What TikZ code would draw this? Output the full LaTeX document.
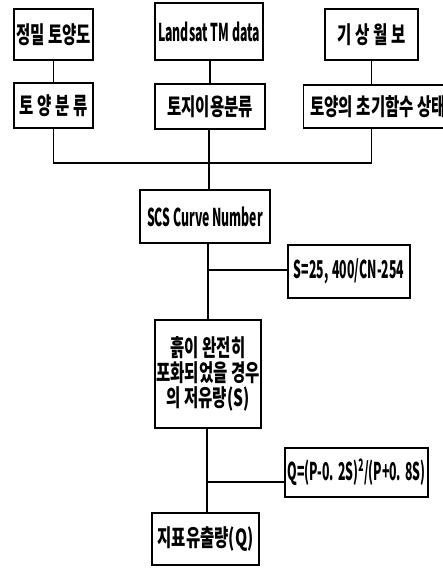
\documentclass[tikz,border=0pt]{standalone}
\usepackage{fontspec}
\newfontfamily\kr[FakeStretch=0.66]{Noto Sans CJK KR}
\newfontfamily\lat[FakeStretch=0.5]{Noto Sans CJK KR}
\begin{document}
\begin{tikzpicture}[x=1pt,y=-1pt,
  box/.style={draw,line width=1.3pt,inner sep=0pt,align=center,font=\kr\bfseries\fontsize{23.5}{25}\selectfont},
  lbox/.style={box,font=\lat\bfseries\fontsize{24.5}{25}\selectfont},
  conn/.style={line width=1.3pt}]
\useasboundingbox (0,0) rectangle (443,569);
\node[box,minimum width=79,minimum height=51] (b1) at (53.5,34.5) {정밀 토양도};
\node[lbox,minimum width=108,minimum height=57] (b2) at (209,31.5) {Landsat TM data};
\node[box,minimum width=93,minimum height=51] (b3) at (371.5,34.5) {기 상 월 보};
\node[box,minimum width=79,minimum height=45] (c1) at (53.5,105.5) {토 양 분 류};
\node[box,minimum width=110,minimum height=45] (c2) at (210,106.5) {토지이용분류};
\node[box,minimum width=146,minimum height=43,anchor=west] (c3) at (303,106.5) {\hspace*{3pt}토양의 초기함수 상태};
\node[lbox,minimum width=130,minimum height=53] (scs) at (205,216.5) {SCS Curve Number};
\node[lbox,minimum width=122,minimum height=53] (sb) at (349,271.5) {S=25,\,400/CN-254};
\node[box,minimum width=106,minimum height=108] (sat) at (208,374) {흙이 완전히\\포화되었을 경우\\의 저유량(S)};
\node[lbox,minimum width=143,minimum height=49] (qb) at (356.5,472.5) {Q=(P-0.\,2S)\textsuperscript{2}/(P+0.\,8S)};
\node[box,minimum width=107,minimum height=52] (out) at (205.5,539) {지표유출량(Q)};
\coordinate (j) at (209,163);
\coordinate (k1) at (208,270);
\coordinate (k2) at (207,482);
\draw[conn] (b1.south) -- (c1.north);
\draw[conn] (b2.south -| c2.north) -- (c2.north);
\draw[conn] (b3.south) -- (b3.south |- c3.north);
\draw[conn] (c1.south) |- (j);
\draw[conn] (b3.south |- c3.south) |- (j);
\draw[conn] (j |- c2.south) -- (j |- scs.north);
\draw[conn] (k1 |- scs.south) -- (k1 |- sat.north);
\draw[conn] (k1) -- (k1 -| sb.west);
\draw[conn] (k2 |- sat.south) -- (k2 |- out.north);
\draw[conn] (k2) -- (k2 -| qb.west);
\end{tikzpicture}
\end{document}
